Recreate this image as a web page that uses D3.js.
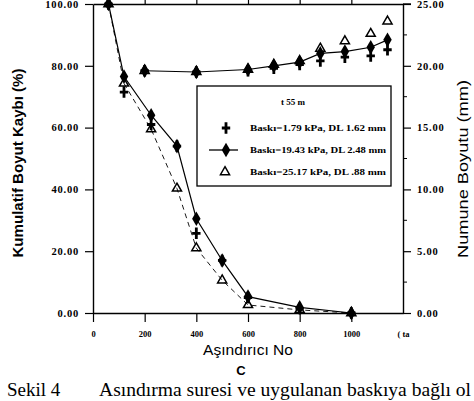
<!DOCTYPE html>
<html><head><meta charset="utf-8">
<script src="https://cdn.jsdelivr.net/npm/d3@7"></script>
<style>html,body{margin:0;padding:0;background:#fff;}svg{display:block;}</style>
</head><body>
<svg id="c" width="474" height="401"></svg>
<script>
// ---- data ----
const xTicks = [0, 200, 400, 600, 800, 1000, 1200];
const xTickLabels = ["0", "200", "400", "600", "800", "1000", "( ta"];
const yLeftTicks = [0, 20, 40, 60, 80, 100];
const yLeftLabels = ["0.00", "20.00", "40.00", "60.00", "80.00", "100.00"];
const yRightTicks = [0, 5, 10, 15, 20, 25];
const yRightLabels = ["0.00", "5.00", "10.00", "15.00", "20.00", "25.00"];

// cumulative size loss (%) - left axis
const xLoss = [60, 120, 225, 325, 400, 500, 600, 800, 1000];
const lossB1 = [100, 71.5, 61, 54, 25.8, 17, 5, 1.5, 0];       // Baskı=1.79 kPa (+)
const lossB19 = [100, 76.5, 64, 54, 30.5, 17, 5.3, 1.8, 0];    // Baskı=19.43 kPa (filled)
const lossB25 = [100, 74.3, 59.5, 40.3, 21, 10.6, 2.6, 1, 0];  // Baskı=25.17 kPa (triangle)

// sample size (mm) - right axis
const xSize = [200, 400, 600, 700, 800, 880, 975, 1075, 1140];
const sizeB1 = [19.6, 19.5, 19.6, 19.8, 20.1, 20.4, 20.7, 20.8, 21.3];
const sizeB19 = [19.6, 19.5, 19.7, 20.0, 20.3, 21.0, 21.15, 21.5, 22.1];
const sizeB25 = [19.6, 19.5, 19.7, 20.1, 20.4, 21.4, 22.0, 22.6, 23.6];

const legendTitle = "t 55 m";
const legendLabels = ["Baskı=1.79 kPa, DL 1.62 mm", "Baskı=19.43 kPa, DL 2.48 mm", "Baskı=25.17 kPa, DL .88 mm"];

// ---- drawing ----
const svg = d3.select("#c");
const x = d3.scaleLinear().domain([0, 1200]).range([93, 403]);
const yL = d3.scaleLinear().domain([0, 100]).range([313, 4]);
const yR = d3.scaleLinear().domain([0, 25]).range([313, 4]);

const tickFont = "Liberation Serif, Times New Roman, serif";

// left axis
const gL = svg.append("g").attr("transform", `translate(${x(0)},0)`)
  .call(d3.axisLeft(yL).tickValues(yLeftTicks).tickSize(8).tickSizeOuter(0).tickPadding(6)
    .tickFormat((d, i) => yLeftLabels[i]));
// right axis
const gR = svg.append("g").attr("transform", `translate(${x(1200)},0)`)
  .call(d3.axisRight(yR).tickValues(yRightTicks).tickSize(8).tickSizeOuter(0).tickPadding(6)
    .tickFormat((d, i) => yRightLabels[i]));
// right minor ticks
gR.selectAll(".minor").data([2.5, 7.5, 12.5, 17.5, 22.5]).enter().append("line")
  .attr("x1", 0).attr("x2", 4).attr("y1", d => yR(d)).attr("y2", d => yR(d))
  .attr("stroke", "#000").attr("stroke-width", 1);
// bottom axis
const gB = svg.append("g").attr("transform", `translate(0,${yL(0)})`)
  .call(d3.axisBottom(x).tickValues(xTicks).tickSize(9).tickSizeOuter(0).tickPadding(9)
    .tickFormat((d, i) => xTickLabels[i]));
gB.selectAll(".tick").filter(d => d === 1200).select("line").remove();
// top axis
const gT = svg.append("g").attr("transform", `translate(0,${yL(100)})`)
  .call(d3.axisTop(x).tickValues([200, 400, 600, 800, 1000]).tickSize(5).tickSizeOuter(0).tickFormat(""));
// extend top border to right tick
svg.append("line").attr("x1", x(1200)).attr("x2", x(1200) + 8).attr("y1", yL(100)).attr("y2", yL(100))
  .attr("stroke", "#000").attr("stroke-width", 1.4);

[gL, gR, gB, gT].forEach(g => {
  g.select(".domain").attr("stroke-width", 1.4);
  g.selectAll(".tick line").attr("stroke-width", 1.2);
});
[gL, gR].forEach(g => g.selectAll(".tick text")
  .attr("font-family", tickFont).attr("font-weight", "bold").attr("font-size", 10.5)
  .attr("letter-spacing", "0.8px").attr("fill", "#000"));
gB.selectAll(".tick text").attr("font-family", tickFont).attr("font-weight", "bold")
  .attr("font-size", 8.5).attr("fill", "#000");

// lines
const lineL = d3.line().x(d => x(d[0])).y(d => yL(d[1]));
const lineR = d3.line().x(d => x(d[0])).y(d => yR(d[1]));
svg.append("path").datum(xLoss.map((v, i) => [v, lossB19[i]])).attr("d", lineL)
  .attr("fill", "none").attr("stroke", "#000").attr("stroke-width", 1.2);
svg.append("path").datum(xLoss.map((v, i) => [v, lossB25[i]])).attr("d", lineL)
  .attr("fill", "none").attr("stroke", "#000").attr("stroke-width", 0.9).attr("stroke-dasharray", "5,4");
svg.append("path").datum(xSize.map((v, i) => [v, sizeB19[i]])).attr("d", lineR)
  .attr("fill", "none").attr("stroke", "#000").attr("stroke-width", 1.2);

// markers
const plusPath = "M-1.4,-5.8 L1.4,-5.8 L1.4,-1.4 L4.2,-1.4 L4.2,1.4 L1.4,1.4 L1.4,5.8 L-1.4,5.8 L-1.4,1.4 L-4.2,1.4 L-4.2,-1.4 L-1.4,-1.4 Z";
const diamond = d3.symbol().type(d3.symbolDiamond).size(62)();
const tri = d3.symbol().type(d3.symbolTriangle).size(36)();

function drawPlus(xs, ys, ysc) {
  svg.append("g").selectAll("path").data(xs.map((v, i) => [v, ys[i]])).enter().append("path")
    .attr("d", plusPath).attr("fill", "#000")
    .attr("transform", d => `translate(${x(d[0])},${ysc(d[1])})`);
}
function drawDiamond(xs, ys, ysc) {
  svg.append("g").selectAll("path").data(xs.map((v, i) => [v, ys[i]])).enter().append("path")
    .attr("d", diamond).attr("fill", "#000")
    .attr("transform", d => `translate(${x(d[0])},${ysc(d[1])})`);
}
function drawTri(xs, ys, ysc) {
  svg.append("g").selectAll("path").data(xs.map((v, i) => [v, ys[i]])).enter().append("path")
    .attr("d", tri).attr("fill", "none").attr("stroke", "#000").attr("stroke-width", 1.5)
    .attr("transform", d => `translate(${x(d[0])},${ysc(d[1])})`);
}
drawTri(xLoss, lossB25, yL);
drawPlus(xLoss, lossB1, yL);
drawDiamond(xLoss, lossB19, yL);
drawTri(xSize, sizeB25, yR);
drawPlus(xSize, sizeB1, yR);
drawDiamond(xSize, sizeB19, yR);

// legend
const lg = svg.append("g");
lg.append("rect").attr("x", 197).attr("y", 86).attr("width", 194).attr("height", 100)
  .attr("fill", "#fff").attr("stroke", "#000").attr("stroke-width", 1.3);
lg.append("text").attr("x", 293).attr("y", 105).attr("text-anchor", "middle")
  .attr("font-family", tickFont).attr("font-weight", "bold").attr("font-size", 9).text(legendTitle);
const rowY = [128, 150, 172];
lg.append("path").attr("d", plusPath).attr("fill", "#000").attr("transform", `translate(226,${rowY[0]})`);
lg.append("line").attr("x1", 209).attr("x2", 238).attr("y1", rowY[1]).attr("y2", rowY[1])
  .attr("stroke", "#000").attr("stroke-width", 1.3);
lg.append("path").attr("d", diamond).attr("fill", "#000").attr("transform", `translate(226,${rowY[1]})`);
lg.append("path").attr("d", tri).attr("fill", "none").attr("stroke", "#000").attr("stroke-width", 1.5)
  .attr("transform", `translate(225,${rowY[2]})`);
legendLabels.forEach((t, i) => {
  lg.append("text").attr("x", 250).attr("y", rowY[i] + 3.2)
    .attr("font-family", tickFont).attr("font-weight", "bold").attr("font-size", 9)
    .attr("textLength", 136).attr("lengthAdjust", "spacingAndGlyphs").text(t);
});

// axis titles
svg.append("text").attr("transform", "translate(23,163) rotate(-90)").attr("text-anchor", "middle")
  .attr("font-family", "Liberation Sans, Arial, sans-serif").attr("font-weight", "bold").attr("font-size", 15)
  .attr("textLength", 189).attr("lengthAdjust", "spacingAndGlyphs").text("Kumulatif Boyut Kaybı (%)");
svg.append("text").attr("transform", "translate(468,169) rotate(-90)").attr("text-anchor", "middle")
  .attr("font-family", "Liberation Sans, Arial, sans-serif").attr("font-size", 15)
  .attr("textLength", 178).attr("lengthAdjust", "spacingAndGlyphs").text("Numune Boyutu (mm)");
svg.append("text").attr("x", 248).attr("y", 355).attr("text-anchor", "middle")
  .attr("font-family", "Liberation Sans, Arial, sans-serif").attr("font-size", 15)
  .attr("textLength", 90).attr("lengthAdjust", "spacingAndGlyphs").text("Aşındırıcı No");
svg.append("text").attr("x", 241).attr("y", 375).attr("text-anchor", "middle")
  .attr("font-family", "Liberation Sans, Arial, sans-serif").attr("font-weight", "bold").attr("font-size", 13)
  .text("C");
// caption
svg.append("text").attr("x", 7).attr("y", 396)
  .attr("font-family", tickFont).attr("font-size", 19).text("Sekil 4");
svg.append("text").attr("x", 99).attr("y", 396)
  .attr("font-family", tickFont).attr("font-size", 19).attr("textLength", 372)
  .attr("lengthAdjust", "spacingAndGlyphs").text("Asındırma suresi ve uygulanan baskıya bağlı ol");
</script>
</body></html>
